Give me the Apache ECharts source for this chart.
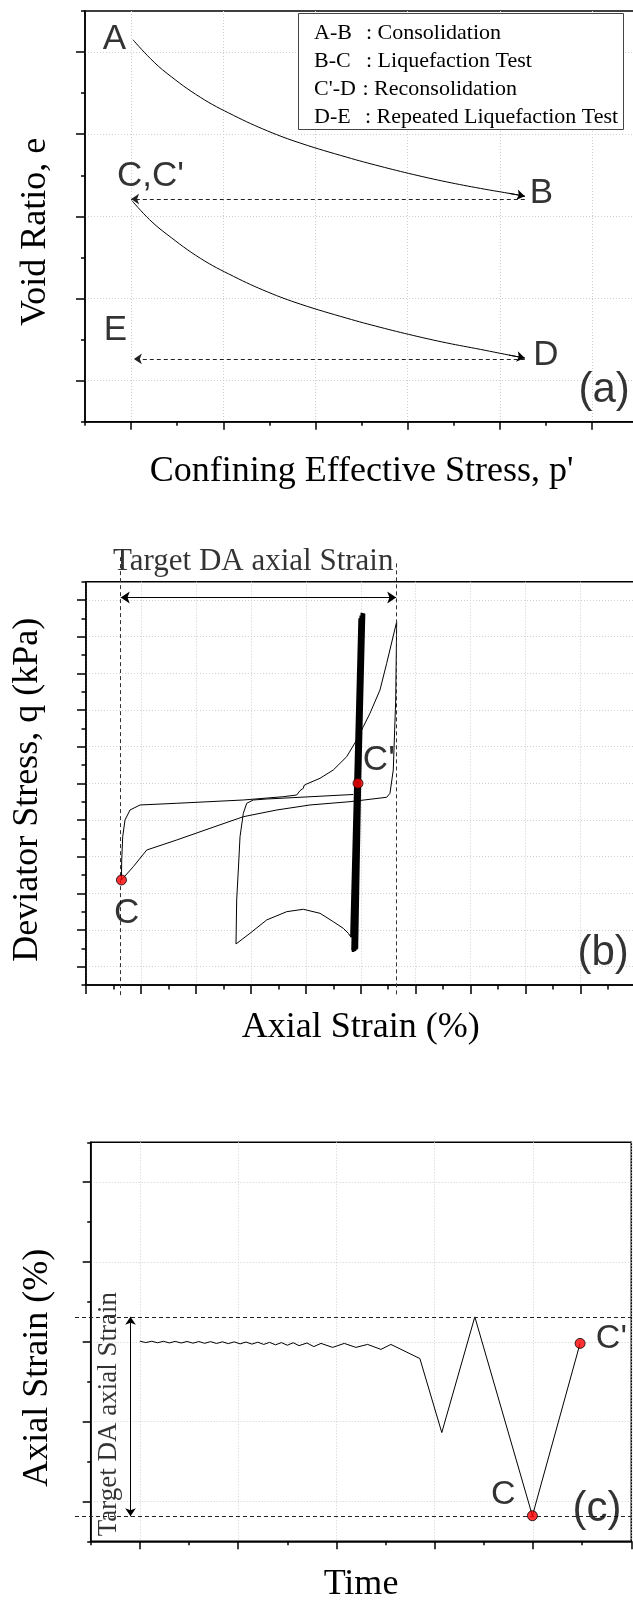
<!DOCTYPE html>
<html><head><meta charset="utf-8">
<script src="https://cdn.jsdelivr.net/npm/echarts@6/dist/echarts.min.js"></script>
<style>html,body{margin:0;padding:0;background:#fff}#c{width:633px;height:1600px}</style>
</head><body><div id="c"></div>
<script>
// ---------------- Panel (a): void ratio vs confining stress ----------------
const aMajorX = [0, 1, 2, 3, 4, 5];
const aMajorY = [0, 1, 2, 3, 4];
const abX = [0.02, 0.21, 0.39, 0.75, 1.11, 1.48, 1.84, 2.34, 2.70, 3.06, 3.42, 3.79, 4.15, 4.27];   // A -> B
const abY = [4.15, 3.92, 3.74, 3.45, 3.23, 3.04, 2.89, 2.72, 2.61, 2.51, 2.42, 2.34, 2.27, 2.245];
const cdX = [0.01, 0.20, 0.39, 0.75, 1.11, 1.48, 1.84, 2.34, 2.70, 3.06, 3.42, 3.79, 4.15, 4.27];   // C' -> D
const cdY = [2.19, 1.96, 1.78, 1.49, 1.27, 1.08, 0.93, 0.76, 0.65, 0.55, 0.46, 0.38, 0.30, 0.275];
const abHead = [[4.10, 2.28], [4.27, 2.245]];
const cdHead = [[4.10, 0.31], [4.27, 0.275]];
const bcArrow = [[4.27, 2.21], [0.0, 2.21]];                        // B -> C (dashed)
const deArrow = [[4.27, 0.264], [0.03, 0.264]];                     // D -> E (dashed)
const aPointLabels = [['A', -0.18, 4.15], ['B', 4.45, 2.28], ["C,C'", 0.21, 2.49], ['D', 4.50, 0.31], ['E', -0.17, 0.61]];
const aPanelLabel = [['(a)', 5.13, -0.12]];
const legendKeys = ['A-B', 'B-C', "C'-D", 'D-E'];
const legendTexts = [': Consolidation', ': Liquefaction Test', ': Reconsolidation', ': Repeated Liquefaction Test'];

// ---------------- Panel (b): deviator stress vs axial strain ----------------
const bMajorY = [0, 1, 2, 3, 4, 5, 6, 7, 8, 9, 10];
const loopX = [5.654, 5.472, 5.350, 5.168, 5.046, 4.926, 4.744, 4.500, 4.258, 4.016, 3.967, 3.955, 3.925, 3.894, 3.834, 3.591, 2.863, 1.651, 0.983, 0.801, 0.710, 0.668, 0.650, 0.645, 0.861, 1.105, 1.651, 2.257, 2.863, 3.470, 4.076, 4.804, 5.472, 5.532, 5.592, 5.636, 5.654];
const loopY = [9.408, 8.274, 7.546, 6.910, 6.545, 6.182, 5.727, 5.364, 5.138, 4.982, 4.941, 4.865, 4.846, 4.800, 4.682, 4.636, 4.546, 4.456, 4.410, 4.273, 4.001, 3.545, 2.910, 2.364, 2.727, 3.182, 3.455, 3.774, 4.090, 4.273, 4.410, 4.500, 4.620, 4.729, 5.364, 7.273, 9.408];
const humpX = [4.823, 4.773, 4.682, 4.500, 4.258, 3.955, 3.652, 3.288, 2.985, 2.730, 2.742, 2.772, 2.803, 2.863, 2.925, 3.045, 3.288, 4.864];
const humpY = [0.805, 0.911, 1.047, 1.227, 1.456, 1.565, 1.500, 1.274, 0.911, 0.619, 1.819, 2.637, 3.545, 4.183, 4.456, 4.546, 4.573, 4.696];
const bandX = [4.83, 4.98, 4.85, 5.00, 4.87, 5.03, 4.86, 5.05, 4.89, 5.02, 4.88, 5.04, 4.91, 5.06, 4.90, 5.03, 4.92, 5.05, 4.89, 5.01, 4.93, 5.04];
const bandY = [0.80, 9.50, 0.45, 9.58, 0.52, 9.62, 0.40, 9.60, 0.48, 9.65, 0.42, 9.59, 0.50, 9.63, 0.44, 9.61, 0.47, 9.64, 0.43, 9.57, 0.49, 9.60];
const bPoints = [['C', 0.645, 2.364], ["C'", 4.95, 5.0]];
const bTargetLeft = [[0.632, 11.17], [0.632, -0.83]];
const bTargetRight = [[5.645, 11.0], [5.645, -0.83]];
const bTargetArrow = [[0.632, 10.07], [5.645, 10.07]];
const bPointLabels = [['C', 0.741, 1.456], ["C'", 5.329, 5.637]];
const bPanelLabel = [['(b)', 9.41, 0.35]];
const bTargetText = [['Target DA axial Strain', 3.043, 11.04]];

// ---------------- Panel (c): axial strain vs time ----------------
const cMajorX = [0, 1, 2, 3, 4, 5];
const cMajorY = [0, 1, 2, 3, 4];
const timeC = [0, 0.06, 0.12, 0.18, 0.24, 0.30, 0.36, 0.42, 0.48, 0.54, 0.60, 0.66, 0.72, 0.78, 0.84, 0.90, 0.96, 1.02, 1.08, 1.14, 1.20, 1.26, 1.32, 1.38, 1.44, 1.50, 1.56, 1.62, 1.70, 1.77, 1.843, 1.962, 2.08, 2.198, 2.317, 2.453, 2.554, 2.849, 3.072, 3.408, 3.994, 4.479];
const strainC = [2.008, 1.990, 2.007, 1.988, 2.006, 1.986, 2.005, 1.985, 2.004, 1.983, 2.003, 1.981, 2.002, 1.979, 2.000, 1.977, 1.999, 1.974, 1.997, 1.971, 1.995, 1.967, 1.993, 1.962, 1.990, 1.957, 1.988, 1.952, 1.985, 1.940, 1.980, 1.930, 1.980, 1.930, 1.967, 1.905, 1.967, 1.790, 0.8625, 2.3125, -0.180, 1.980];
const cPoints = [['C', 3.994, -0.18], ["C'", 4.479, 1.98]];
const cTargetTop = [[-0.66, 2.3125], [5.02, 2.3125]];
const cTargetBottom = [[-0.66, -0.1875], [5.02, -0.1875]];
const cTargetArrow = [[-0.095, 2.3125], [-0.095, -0.1875]];
const cPointLabels = [['C', 3.697, 0.084], ["C'", 4.797, 2.046]];
const cPanelLabel = [['(c)', 4.651, -0.10]];
const cTargetText = [['Target DA axial Strain', -0.31, 1.094]];

// ---------------- helpers ----------------
const SERIF = "'Liberation Serif','Times New Roman',serif";
const SANS = "'Liberation Sans',Arial,sans-serif";
const zip = (xs, ys) => xs.map((x, i) => [x, ys[i]]);
const gridLine = {show: true, lineStyle: {color: '#cfcfcf', type: [1, 2], width: 1}};
function majorAxis(gridIndex, min, max, interval, custom, tickLen, extra) {
  return Object.assign({
    type: 'value', gridIndex, min, max, interval,
    axisLine: {show: true, onZero: false, lineStyle: {color: '#000', width: 1.5}},
    axisTick: Object.assign({show: true, length: tickLen, lineStyle: {color: '#000', width: 1.5}}, custom ? {customValues: custom} : {}),
    axisLabel: {show: false},
    splitLine: gridLine
  }, extra || {});
}
function minorAxis(gridIndex, min, max, interval, tickLen, position) {
  return {
    type: 'value', gridIndex, min, max, interval, position,
    axisLine: {show: false, onZero: false},
    axisTick: {show: true, length: tickLen, lineStyle: {color: '#000', width: 1.5}},
    axisLabel: {show: false}, splitLine: {show: false}
  };
}
function nameStyle(padding) {
  return {fontFamily: SERIF, fontSize: 36, color: '#000', padding: padding || 0};
}
function curve(xi, yi, pts, width, smooth) {
  return {type: 'line', xAxisIndex: xi, yAxisIndex: yi, data: pts, showSymbol: false, symbol: 'none',
    smooth: smooth || false, lineStyle: {color: '#000', width: width}, silent: true, z: 3};
}
function seg(xi, yi, coords, symbols, dashed, size, color) {
  return {type: 'lines', coordinateSystem: 'cartesian2d', xAxisIndex: xi, yAxisIndex: yi, clip: false, silent: true,
    symbol: symbols, symbolSize: size || 8, z: 4,
    lineStyle: {color: color || '#000', width: 1, type: dashed ? [4, 3] : 'solid', opacity: 1},
    data: [{coords: coords}]};
}
function texts(xi, yi, items, family, size, rotate) {
  return {type: 'scatter', xAxisIndex: xi, yAxisIndex: yi, clip: false, silent: true, symbolSize: 1, z: 6,
    itemStyle: {color: 'rgba(0,0,0,0)'},
    data: items.map(d => ({name: d[0], value: [d[1], d[2]]})),
    label: {show: true, position: 'inside', formatter: '{b}', color: '#000', textBorderWidth: 0, fontFamily: family, fontSize: size, rotate: rotate || 0}};
}
function dots(xi, yi, items) {
  return {type: 'scatter', xAxisIndex: xi, yAxisIndex: yi, silent: true, symbolSize: 10, z: 8,
    itemStyle: {color: '#ff0000', borderColor: '#000', borderWidth: 1},
    data: items.map(d => ({name: d[0], value: [d[1], d[2]]}))};
}

// legend box (annotation) for panel (a)
const legendGraphic = [{type: 'rect', left: 298, top: 13, shape: {width: 325, height: 116},
  style: {fill: '#fff', stroke: '#444', lineWidth: 1}, z: 20}];
const legendColonX = [366, 366, 362.5, 365];
legendKeys.forEach((k, i) => {
  legendGraphic.push({type: 'text', x: 314, y: 33.3 + i * 28.1, z: 21,
    style: {text: k, font: '22px ' + SERIF, fill: '#000', textVerticalAlign: 'middle'}});
  legendGraphic.push({type: 'text', x: legendColonX[i], y: 33.3 + i * 28.1, z: 21,
    style: {text: legendTexts[i], font: '22px ' + SERIF, fill: '#000', textVerticalAlign: 'middle'}});
});

const gridBase = {show: true, borderColor: '#000', borderWidth: 1.5, backgroundColor: 'transparent', containLabel: false, outerBoundsMode: 'none'};
const option = {
  animation: false,
  backgroundColor: '#fff',
  grid: [
    Object.assign({left: 85, right: -5.2, top: 11, height: 410.7}, gridBase),
    Object.assign({left: 86, right: -2.5, top: 581.7, height: 403.3}, gridBase),
    Object.assign({left: 90.7, right: 1.7, top: 1142.3, height: 399}, gridBase)
  ],
  xAxis: [
    majorAxis(0, -0.5, 5.5, 0.5, aMajorX, 8, {position: 'bottom', name: "Confining Effective Stress, p'", nameLocation: 'middle', nameGap: 32, nameTextStyle: nameStyle()}),
    minorAxis(0, -0.5, 5.5, 0.5, 4, 'bottom'),
    majorAxis(1, 0, 10, 1, null, 9, {position: 'bottom', minorTick: {show: true, splitNumber: 2, length: 4.5, lineStyle: {color: '#000', width: 1.5}},
      name: 'Axial Strain (%)', nameLocation: 'middle', nameGap: 25, nameTextStyle: nameStyle()}),
    majorAxis(2, -0.5, 5, 0.5, cMajorX, 8, {position: 'bottom', name: 'Time', nameLocation: 'middle', nameGap: 25, nameTextStyle: nameStyle()}),
    minorAxis(2, -0.5, 5, 0.5, 4, 'bottom')
  ],
  yAxis: [
    majorAxis(0, -0.5, 4.5, 0.5, aMajorY, 9, {position: 'left', name: 'Void Ratio, e', nameLocation: 'middle', nameGap: 31, nameTextStyle: nameStyle([0, 31, 0, 0])}),
    minorAxis(0, -0.5, 4.5, 0.5, 4, 'left'),
    majorAxis(1, -0.5, 10.5, 0.5, bMajorY, 9, {position: 'left', name: 'Deviator Stress, q (kPa)', nameLocation: 'middle', nameGap: 40, nameTextStyle: nameStyle([0, 13, 0, 0])}),
    minorAxis(1, -0.5, 10.5, 0.5, 4.5, 'left'),
    majorAxis(2, -0.5, 4.5, 0.5, cMajorY, 8, {position: 'left', name: 'Axial Strain (%)', nameLocation: 'middle', nameGap: 35, nameTextStyle: nameStyle([0, 52, 0, 0])}),
    minorAxis(2, -0.5, 4.5, 0.5, 3.5, 'left')
  ],
  graphic: legendGraphic,
  series: [
    // panel (a)
    curve(0, 0, zip(abX, abY), 1, 0.4),
    curve(0, 0, zip(cdX, cdY), 1, 0.4),
    seg(0, 0, abHead, ['none', 'arrow'], false, 8),
    seg(0, 0, cdHead, ['none', 'arrow'], false, 8),
    seg(0, 0, bcArrow, ['none', 'arrow'], true, 8, '#222'),
    seg(0, 0, deArrow, ['none', 'arrow'], true, 8, '#222'),
    texts(0, 0, aPointLabels, SANS, 35),
    texts(0, 0, aPanelLabel, SANS, 42),
    // panel (b)
    curve(2, 2, zip(loopX, loopY), 1),
    curve(2, 2, zip(humpX, humpY), 1),
    curve(2, 2, zip(bandX, bandY), 2.6),
    seg(2, 2, bTargetLeft, ['none', 'none'], true, 1, '#333'),
    seg(2, 2, bTargetRight, ['none', 'none'], true, 1, '#333'),
    seg(2, 2, bTargetArrow, ['arrow', 'arrow'], false, 9),
    dots(2, 2, bPoints),
    texts(2, 2, bPointLabels, SANS, 35),
    texts(2, 2, bPanelLabel, SANS, 42),
    texts(2, 2, bTargetText, SERIF, 31),
    // panel (c)
    curve(3, 4, zip(timeC, strainC), 1),
    seg(3, 4, cTargetTop, ['none', 'none'], true, 1, '#222'),
    seg(3, 4, cTargetBottom, ['none', 'none'], true, 1, '#222'),
    seg(3, 4, cTargetArrow, ['arrow', 'arrow'], false, 8),
    dots(3, 4, cPoints),
    texts(3, 4, cPointLabels, SANS, 34),
    texts(3, 4, cPanelLabel, SANS, 42),
    texts(3, 4, cTargetText, SERIF, 27, 90)
  ]
};
const chart = echarts.init(document.getElementById('c'), null, {renderer: 'canvas', width: 633, height: 1600});
chart.setOption(option);
</script>
</body></html>
